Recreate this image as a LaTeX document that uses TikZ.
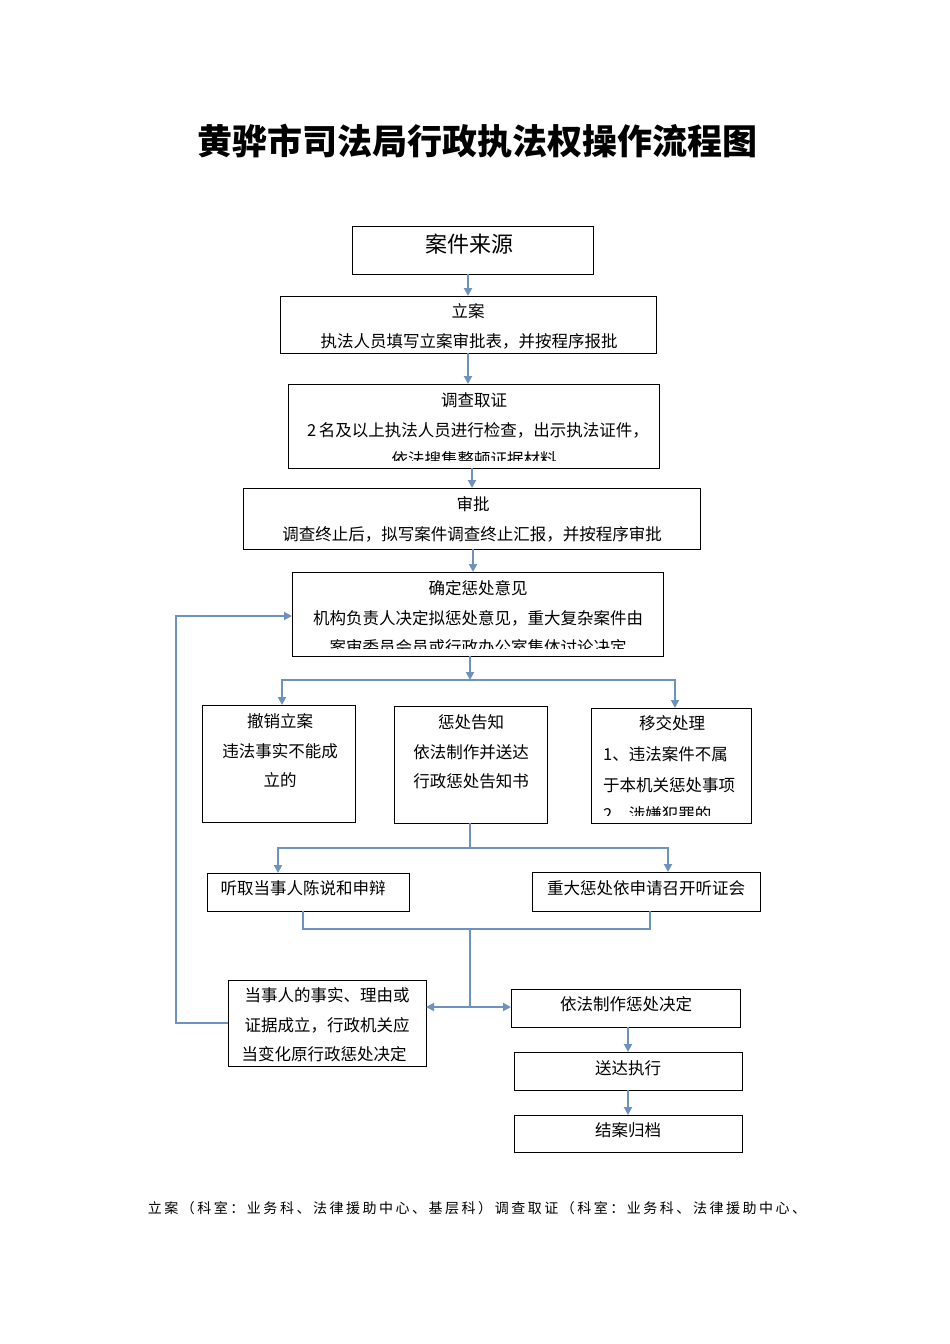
\documentclass[tikz,border=0pt]{standalone}
\usepackage{fontspec}
\setmainfont{Noto Sans CJK SC}
\newfontfamily\footfont{Noto Sans CJK SC}[LetterSpace=18]
\usetikzlibrary{arrows.meta}
\definecolor{lineblue}{RGB}{110,146,190}
\tikzset{
  box/.style={draw=black, line width=1pt, inner sep=0pt, outer sep=0pt},
  txt/.style={inner sep=0pt, font=\fontsize{16.5}{18}\selectfont},
  ln/.style={draw=lineblue, line width=1.9pt},
  arr/.style={ln, -{Triangle[width=8pt,length=8pt]}},
  darr/.style={ln, {Triangle[width=8pt,length=8pt]}-{Triangle[width=8pt,length=8pt]}}
}
\begin{document}
\begin{tikzpicture}[x=1pt,y=-1pt]
\useasboundingbox (0,0) rectangle (950,1344);

% title
\node[inner sep=0pt, font=\fontsize{35}{40}\selectfont\bfseries] (title) at (477,141) {黄骅市司法局行政执法权操作流程图};

% boxes
\node[box, minimum width=241, minimum height=48] (b1) at (472.5,250) {};
\node[box, minimum width=376, minimum height=57] (b2) at (468,324.5) {};
\node[box, minimum width=371, minimum height=84] (b3) at (473.5,426) {};
\node[box, minimum width=457, minimum height=61] (b4) at (471.5,518.5) {};
\node[box, minimum width=371, minimum height=84] (b5) at (477.5,614) {};
\node[box, minimum width=153, minimum height=117] (b6) at (278.5,763.5) {};
\node[box, minimum width=153, minimum height=117] (b7) at (470.5,764.5) {};
\node[box, minimum width=160, minimum height=115] (b8) at (671,765.5) {};
\node[box, minimum width=202, minimum height=38] (b9) at (308,892) {};
\node[box, minimum width=228, minimum height=39] (b10) at (646,891.5) {};
\node[box, minimum width=198, minimum height=86] (b11) at (327,1023) {};
\node[box, minimum width=229, minimum height=38] (b12) at (625.5,1008) {};
\node[box, minimum width=228, minimum height=38] (b13) at (628,1071) {};
\node[box, minimum width=228, minimum height=37] (b14) at (628,1133.5) {};

% texts
\node[inner sep=0pt, font=\fontsize{22}{24}\selectfont] (t1) at (469,244) {案件来源};
\node[txt] (t2a) at (468,311) {立案};
\node[txt] (t2b) at (469,341) {执法人员填写立案审批表，并按程序报批};
\node[txt] (t3a) at (474,400) {调查取证};
\node[txt] (t3b) at (478,430) {2\,名及以上执法人员进行检查，出示执法证件，};
\begin{scope}
\clip (289,385) rectangle (658,460);
\node[txt] (t3c) at (474,459) {依法搜集整顿证据材料};
\end{scope}
\node[txt] (t4a) at (473,504) {审批};
\node[txt] (t4b) at (472,534) {调查终止后，拟写案件调查终止汇报，并按程序审批};
\node[txt] (t5a) at (478,588) {确定惩处意见};
\node[txt] (t5b) at (478,618) {机构负责人决定拟惩处意见，重大复杂案件由};
\begin{scope}
\clip (293,573) rectangle (662,648);
\node[txt] (t5c) at (478,647) {案审委员会员或行政办公室集体讨论决定};
\end{scope}
\node[txt] (t6a) at (280,721) {撤销立案};
\node[txt] (t6b) at (280,751) {违法事实不能成};
\node[txt] (t6c) at (280,780) {立的};
\node[txt] (t7a) at (471,722) {惩处告知};
\node[txt] (t7b) at (471,752) {依法制作并送达};
\node[txt] (t7c) at (471,781) {行政惩处告知书};
\node[txt] (t8a) at (672,723) {移交处理};
\node[txt, anchor=west] (t8b) at (603,754) {1、违法案件不属};
\node[txt, anchor=west] (t8c) at (603,785) {于本机关惩处事项};
\begin{scope}
\clip (592,709) rectangle (750,815);
\node[txt, anchor=west] (t8d) at (603,814) {2、涉嫌犯罪的};
\end{scope}
\node[txt] (t9) at (303,888) {听取当事人陈说和申辩};
\node[txt] (t10) at (646,888) {重大惩处依申请召开听证会};
\node[txt] (t11a) at (327,995) {当事人的事实、理由或};
\node[txt] (t11b) at (327,1025) {证据成立，行政机关应};
\node[txt] (t11c) at (324,1054) {当变化原行政惩处决定};
\node[txt] (t12) at (626,1004) {依法制作惩处决定};
\node[txt] (t13) at (628,1068) {送达执行};
\node[txt] (t14) at (628,1130) {结案归档};

% footer
\node[inner sep=0pt, font=\footfont\fontsize{14}{16}\selectfont] (foot) at (477,1208) {立案（科室：业务科、法律援助中心、基层科）调查取证（科室：业务科、法律援助中心、};

% junction coordinates
\coordinate (j1) at (470,680);
\coordinate (j2) at (470,848);
\coordinate (j3) at (470,929);
\coordinate (j4) at (470,1007);
\coordinate (lp) at (176,1023);

% connectors
\draw[arr] (b1.south -| b2) -- (b2.north);
\draw[arr] (b2.south) -- (b2.south |- b3.north);
\draw[arr] ([xshift=-1.5]b3.south) -- ([xshift=-1.5]b3.south |- b4.north);
\draw[arr] ([xshift=1.5]b4.south) -- ([xshift=1.5]b4.south |- b5.north);

\draw[arr] (b5.south -| j1) -- (j1);
\draw[arr] (j1) -| ([xshift=3.5]b6.north);
\draw[arr] (j1) -| ([xshift=4]b8.north);

\draw[ln] (b7.south -| j2) -- (j2);
\draw[arr] (j2) -| ([xshift=-30]b9.north);
\draw[arr] (j2) -| ([xshift=22]b10.north);

\draw[ln] ([xshift=-5]b9.south) |- (j3) -| ([xshift=4]b10.south);
\draw[ln] (j3) -- (j4);
\draw[darr] (b11.east |- j4) -- (b12.west |- j4);

\draw[arr] ([xshift=2.5]b12.south) -- (b13.north);
\draw[arr] (b13.south) -- (b14.north);

\draw[arr] (b11.west) -- (lp) |- ([yshift=-2]b5.west);
\end{tikzpicture}
\end{document}
